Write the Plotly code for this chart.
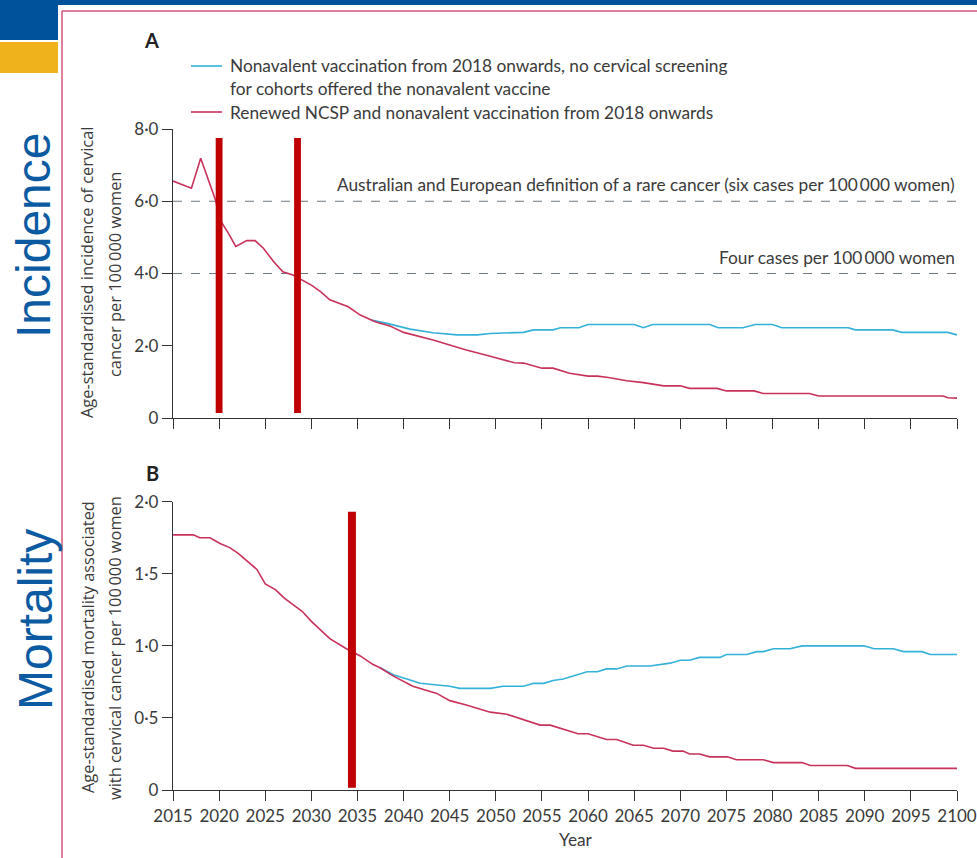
import plotly.graph_objects as go

# ---------------- data ----------------
years_inc_red = [2015, 2017, 2018, 2019.6, 2020.1, 2021, 2021.8, 2023, 2023.9, 2024.8, 2025.9, 2026.9,
                 2028, 2030, 2031, 2032, 2034, 2035.3, 2036.5, 2037, 2038.5, 2040, 2043.2, 2046.8,
                 2049.4, 2052, 2053, 2055, 2056.2, 2058, 2060, 2061, 2062.2, 2064.2, 2066, 2068.2,
                 2070, 2071, 2074, 2075, 2078, 2079, 2084, 2085, 2098.5, 2099, 2100]
inc_red = [6.56, 6.36, 7.19, 6.04, 5.48, 5.12, 4.75, 4.91, 4.91, 4.70, 4.33, 4.05,
           3.96, 3.68, 3.50, 3.27, 3.08, 2.85, 2.71, 2.66, 2.55, 2.37, 2.16, 1.88,
           1.71, 1.53, 1.52, 1.38, 1.38, 1.24, 1.16, 1.16, 1.12, 1.03, 0.98, 0.89,
           0.89, 0.82, 0.82, 0.75, 0.75, 0.68, 0.68, 0.61, 0.61, 0.56, 0.55]

years_inc_blue = [2036.5, 2038.2, 2040.7, 2043.2, 2045.8, 2048, 2049.4, 2053, 2054.1, 2056.2, 2057,
                  2059, 2060, 2065, 2066, 2067, 2073.2, 2074.1, 2076.8, 2078.1, 2080, 2081,
                  2088.2, 2089, 2093, 2094, 2099, 2100]
inc_blue = [2.71, 2.62, 2.46, 2.36, 2.30, 2.30, 2.34, 2.37, 2.44, 2.44, 2.50,
            2.50, 2.59, 2.59, 2.50, 2.59, 2.59, 2.50, 2.50, 2.59, 2.59, 2.50,
            2.50, 2.44, 2.44, 2.37, 2.37, 2.30]

years_mort_red = [2015, 2017.2, 2017.9, 2019, 2020.1, 2021.2, 2022.1, 2023.2, 2024.1, 2025, 2026.1,
                  2027.1, 2029, 2030, 2031, 2032, 2033.8, 2035.3, 2036.7, 2037.4, 2038.9, 2041,
                  2043.6, 2045, 2046.8, 2049.4, 2051.2, 2054.8, 2055.9, 2058.9, 2060, 2062, 2063.1,
                  2064.9, 2066, 2067.1, 2068.2, 2069.2, 2070.3, 2071, 2072.1, 2073.2, 2075.1,
                  2076.1, 2079, 2080.1, 2083.2, 2084.1, 2088.1, 2089, 2100]
mort_red = [1.77, 1.77, 1.75, 1.75, 1.71, 1.68, 1.64, 1.58, 1.53, 1.43, 1.39,
            1.33, 1.24, 1.17, 1.11, 1.05, 0.98, 0.93, 0.87, 0.85, 0.79, 0.72,
            0.67, 0.62, 0.59, 0.54, 0.525, 0.45, 0.45, 0.39, 0.39, 0.35, 0.35,
            0.31, 0.31, 0.29, 0.29, 0.27, 0.27, 0.25, 0.25, 0.23, 0.23,
            0.21, 0.21, 0.19, 0.19, 0.17, 0.17, 0.15, 0.15]

years_mort_blue = [2037.4, 2038.9, 2041.8, 2043.2, 2045, 2046.1, 2049.4, 2050.8, 2053, 2054.1, 2055.2,
                   2056.2, 2057.3, 2059.9, 2061, 2062, 2063.1, 2064.2, 2066.7, 2068.9, 2070, 2071,
                   2072.1, 2074.3, 2075, 2077.2, 2078.3, 2079, 2080.1, 2081.9, 2083.2, 2089.9,
                   2091, 2093.1, 2094.2, 2096.2, 2097.1, 2100]
mort_blue = [0.85, 0.80, 0.74, 0.73, 0.72, 0.705, 0.705, 0.72, 0.72, 0.74, 0.74,
             0.76, 0.77, 0.82, 0.82, 0.84, 0.84, 0.86, 0.86, 0.88, 0.90, 0.90,
             0.92, 0.92, 0.94, 0.94, 0.96, 0.96, 0.98, 0.98, 1.00, 1.00,
             0.98, 0.98, 0.96, 0.96, 0.94, 0.94]

thresholds = [6.0, 4.0]
threshold_labels = ["Australian and European definition of a rare cancer (six cases per 100\u2009000 women)",
                    "Four cases per 100\u2009000 women"]

incidence_markers = [2020.0, 2028.5]
mortality_markers = [2034.4]

legend_labels = ["Nonavalent vaccination from 2018 onwards, no cervical screening<br>for cohorts offered the nonavalent vaccine",
                 "Renewed NCSP and nonavalent vaccination from 2018 onwards"]

inc_title = ["Age-standardised incidence of cervical", "cancer per 100\u2009000 women"]
mort_title = ["Age-standardised mortality associated", "with cervical cancer per 100\u2009000 women"]

x_ticks = list(range(2015, 2101, 5))
inc_ticks = [0, 2, 4, 6, 8]
inc_ticktext = ["0", "2\u00b70", "4\u00b70", "6\u00b70", "8\u00b70"]
mort_ticks = [0, 0.5, 1.0, 1.5, 2.0]
mort_ticktext = ["0", "0\u00b75", "1\u00b70", "1\u00b75", "2\u00b70"]

# ---------------- style ----------------
W, H = 977, 858
BLUE = "#33b1d8"
RED = "#c8325a"
TXT = "#3a3a3a"
AX = "#333333"
FONT = "Lato"
MARK = "#c00000"


def px(x):
    return x / W


def py(y):
    return 1 - y / H


fig = go.Figure()

fig.add_trace(go.Scatter(x=years_inc_blue, y=inc_blue, mode="lines", line=dict(color=BLUE, width=1.6),
                         xaxis="x", yaxis="y", showlegend=False))
fig.add_trace(go.Scatter(x=years_inc_red, y=inc_red, mode="lines", line=dict(color=RED, width=1.6),
                         xaxis="x", yaxis="y", showlegend=False))
fig.add_trace(go.Scatter(x=years_mort_blue, y=mort_blue, mode="lines", line=dict(color=BLUE, width=1.6),
                         xaxis="x2", yaxis="y2", showlegend=False))
fig.add_trace(go.Scatter(x=years_mort_red, y=mort_red, mode="lines", line=dict(color=RED, width=1.6),
                         xaxis="x2", yaxis="y2", showlegend=False))

xdom = [px(173), px(957)]
axis_common = dict(showgrid=False, zeroline=False, showline=True, linecolor=AX, linewidth=1.3,
                   ticks="outside", ticklen=10, tickwidth=1.3, tickcolor=AX, automargin=False,
                   tickfont=dict(family=FONT, size=17, color=TXT))

fig.update_layout(
    width=W, height=H, margin=dict(l=0, r=0, t=0, b=0, pad=0, autoexpand=False),
    paper_bgcolor="white", plot_bgcolor="white", showlegend=False,
    font=dict(family=FONT, color=TXT),
    xaxis=dict(domain=xdom, range=[2015, 2100], tickvals=x_ticks, showticklabels=False,
               anchor="y", **axis_common),
    yaxis=dict(domain=[py(418), py(129)], range=[0, 8], tickvals=inc_ticks, ticktext=inc_ticktext,
               anchor="x", **axis_common),
    xaxis2=dict(domain=xdom, range=[2015, 2100], tickvals=x_ticks, anchor="y2", **axis_common),
    yaxis2=dict(domain=[py(790), py(501.7)], range=[0, 2], tickvals=mort_ticks, ticktext=mort_ticktext,
                anchor="x2", **axis_common),
)

shapes = []
# page decoration
shapes.append(dict(type="rect", xref="paper", yref="paper", x0=0, x1=1, y0=py(5), y1=1,
                   fillcolor="#00529b", line_width=0, layer="below"))
shapes.append(dict(type="rect", xref="paper", yref="paper", x0=0, x1=px(58), y0=py(40), y1=1,
                   fillcolor="#00529b", line_width=0, layer="below"))
shapes.append(dict(type="rect", xref="paper", yref="paper", x0=0, x1=px(58), y0=py(73), y1=py(42),
                   fillcolor="#f0b21a", line_width=0, layer="below"))
shapes.append(dict(type="line", xref="paper", yref="paper", x0=px(62), x1=px(62), y0=0, y1=py(11),
                   line=dict(color="#d4547a", width=1.5), layer="below"))
shapes.append(dict(type="line", xref="paper", yref="paper", x0=px(62), x1=1, y0=py(11), y1=py(11),
                   line=dict(color="#d4547a", width=1.5), layer="below"))

# threshold lines
for t in thresholds:
    shapes.append(dict(type="line", xref="x", yref="y", x0=2015, x1=2100, y0=t, y1=t,
                       line=dict(color="#6f7a80", width=1.2, dash="dash"), layer="below"))

# red markers
for m in incidence_markers:
    shapes.append(dict(type="rect", xref="x", yref="y", x0=m - 0.37, x1=m + 0.37, y0=0.14, y1=7.75,
                       fillcolor=MARK, line_width=0))
for m in mortality_markers:
    shapes.append(dict(type="rect", xref="x2", yref="y2", x0=m - 0.43, x1=m + 0.43, y0=0.016, y1=1.93,
                       fillcolor=MARK, line_width=0))

# legend samples
shapes.append(dict(type="line", xref="paper", yref="paper", x0=px(191), x1=px(222), y0=py(66), y1=py(66),
                   line=dict(color=BLUE, width=1.6)))
shapes.append(dict(type="line", xref="paper", yref="paper", x0=px(191), x1=px(222), y0=py(112), y1=py(112),
                   line=dict(color=RED, width=1.6)))

fig.update_layout(shapes=shapes)


def note(x, y, text, size=17.3, xanchor="center", color=TXT, family=FONT, angle=0):
    return dict(x=x, y=y, xref="paper", yref="paper", text=text, showarrow=False,
                xanchor=xanchor, yanchor="middle", textangle=angle,
                font=dict(size=size, family=family, color=color))


ann = []
ann.append(note(px(228), py(66), legend_labels[0].split("<br>")[0], xanchor="left"))
ann.append(note(px(228), py(89), legend_labels[0].split("<br>")[1], xanchor="left"))
ann.append(note(px(228), py(112), legend_labels[1], xanchor="left"))

for t, lab in zip(thresholds, threshold_labels):
    ann.append(dict(x=2100, y=t, xref="x", yref="y", text=lab, showarrow=False, xanchor="right",
                    yanchor="bottom", yshift=4, font=dict(size=17.3, family=FONT, color=TXT)))

ann.append(note(px(151), py(40), "<b>A</b>", size=20, color="#222"))
ann.append(note(px(152), py(473), "<b>B</b>", size=20, color="#222"))

ann.append(note(px(87), py(273), inc_title[0], size=16.4, family="Open Sans", angle=-90))
ann.append(note(px(114), py(275), inc_title[1], size=16.4, family="Open Sans", angle=-90))
ann.append(note(px(87), py(647), mort_title[0], size=16.4, family="Open Sans", angle=-90))
ann.append(note(px(114), py(648), mort_title[1], size=16.4, family="Open Sans", angle=-90))
ann.append(note(px(576), py(839), "Year"))

ann.append(note(px(33), py(236), "Incidence", size=48, color="#0b5aa2", family="Liberation Sans", angle=-90))
ann.append(note(px(35), py(620), "Mortality", size=48, color="#0b5aa2", family="Liberation Sans", angle=-90))

fig.update_layout(annotations=ann)

fig.write_html("out.html", post_script="document.body.style.margin='0px';",
               config={"displayModeBar": False})
